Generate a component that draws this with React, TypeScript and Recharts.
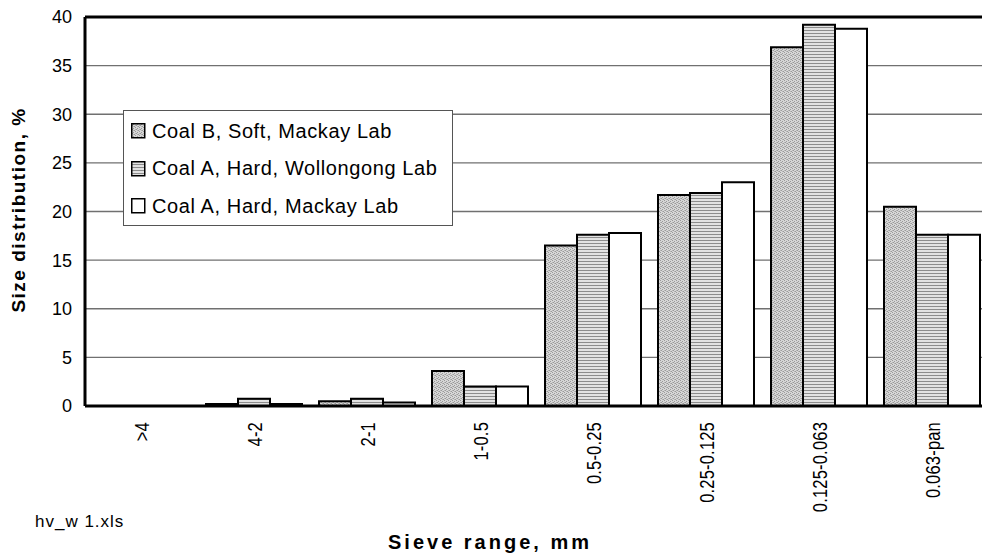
import React from 'react';
import { BarChart, Bar, XAxis, YAxis, CartesianGrid, ReferenceLine, Legend, Label } from 'recharts';

const categories = ['>4', '4-2', '2-1', '1-0.5', '0.5-0.25', '0.25-0.125', '0.125-0.063', '0.063-pan'];
const coalBSoftMackay = [0, 0.2, 0.5, 3.6, 16.5, 21.7, 36.9, 20.5];
const coalAHardWollongong = [0, 0.75, 0.75, 2.0, 17.6, 21.9, 39.2, 17.6];
const coalAHardMackay = [0, 0.2, 0.35, 2.0, 17.8, 23.0, 38.8, 17.6];
const yTicks = [0, 5, 10, 15, 20, 25, 30, 35, 40];
const seriesNames = ['Coal B, Soft, Mackay Lab', 'Coal A, Hard, Wollongong Lab', 'Coal A, Hard, Mackay Lab'];
const seriesKeys = ['b', 'aw', 'am'];
const seriesFills = ['url(#patDot)', 'url(#patStripe)', '#ffffff'];

const data = categories.map((c, i) => ({
  cat: c,
  b: coalBSoftMackay[i],
  aw: coalAHardWollongong[i],
  am: coalAHardMackay[i],
}));

const FONT = "'Liberation Sans', Arial, sans-serif";

const XTick = (props: any) => {
  const { x, y, payload } = props;
  return (
    <g transform={`translate(${x},${y}) scale(1.25,1)`}>
      <text transform="rotate(-90)" x={0} y={0} dy="0.36em" textAnchor="end" fontSize={16.5} letterSpacing={0.2} fontFamily={FONT} fill="#000">
        {payload.value}
      </text>
    </g>
  );
};

const LegendContent = () => (
  <div style={{ width: 330, height: 116, boxSizing: 'border-box', border: '1px solid #555', background: '#fff', fontFamily: FONT, position: 'relative' }}>
    {seriesNames.map((n, i) => (
      <div key={n} style={{ position: 'absolute', left: 7, top: 8 + i * 37.5, height: 24, display: 'flex', alignItems: 'center' }}>
        <svg width={15} height={16} style={{ display: 'block' }}>
          <rect x={0.75} y={0.75} width={13} height={14} fill={seriesFills[i]} stroke="#000" strokeWidth={1.5} />
        </svg>
        <span style={{ marginLeft: 6, fontSize: 20, letterSpacing: 0.6, color: '#000', whiteSpace: 'nowrap' }}>{n}</span>
      </div>
    ))}
  </div>
);

export default function App() {
  return (
    <div style={{ position: 'absolute', left: 0, top: 0, width: 982, height: 559, overflow: 'hidden', background: '#fff' }}>
      <svg width={0} height={0} style={{ position: 'absolute' }}>
        <defs>
          <pattern id="patDot" patternUnits="userSpaceOnUse" width={4} height={4}>
            <rect width={4} height={4} fill="#d6d6d6" />
            <rect x={0} y={0} width={1} height={1} fill="#9a9a9a" />
            <rect x={2} y={1} width={1} height={1} fill="#9a9a9a" />
            <rect x={1} y={2} width={1} height={1} fill="#9a9a9a" />
            <rect x={3} y={3} width={1} height={1} fill="#9a9a9a" />
            <rect x={2} y={3} width={1} height={1} fill="#b4b4b4" />
            <rect x={0} y={2} width={1} height={1} fill="#b4b4b4" />
          </pattern>
          <pattern id="patStripe" patternUnits="userSpaceOnUse" width={3} height={3}>
            <rect width={3} height={3} fill="#e2e2e2" />
            <rect width={3} height={1} fill="#8c8c8c" />
          </pattern>
        </defs>
      </svg>
      <BarChart
        width={990}
        height={559}
        data={data}
        margin={{ top: 17, right: 1, left: 0, bottom: 0 }}
        barCategoryGap={8}
        barGap={0}
      >
        <CartesianGrid vertical={false} stroke="#707070" strokeWidth={1.4} />
        <XAxis
          dataKey="cat"
          height={153}
          tickLine={false}
          axisLine={{ stroke: '#000', strokeWidth: 3 }}
          interval={0}
          tick={<XTick />}
          tickMargin={10}
        >
          <Label
            content={() => (
              <g>
                <text x={490} y={549} textAnchor="middle" fontSize={20} fontWeight="bold" letterSpacing={3} fontFamily={FONT} fill="#000">
                  Sieve range, mm
                </text>
                <text x={35} y={527} fontSize={17} letterSpacing={1} fontFamily={FONT} fill="#000">
                  hv_w 1.xls
                </text>
              </g>
            )}
          />
        </XAxis>
        <YAxis
          width={85}
          domain={[0, 40]}
          ticks={yTicks}
          interval={0}
          tickLine={false}
          axisLine={{ stroke: '#000', strokeWidth: 3 }}
          tick={{ fontSize: 18, fill: '#000', fontFamily: FONT }}
          tickMargin={7}
        >
          <Label
            content={() => (
              <text
                transform="translate(25,210) rotate(-90)"
                textAnchor="middle"
                fontSize={19}
                fontWeight="bold"
                letterSpacing={1.5}
                fontFamily={FONT}
                fill="#000"
              >
                Size distribution, %
              </text>
            )}
          />
        </YAxis>
        <ReferenceLine y={40} stroke="#000" strokeWidth={3} />
        {seriesKeys.map((k, i) => (
          <Bar key={k} dataKey={k} name={seriesNames[i]} fill={seriesFills[i]} stroke="#000" strokeWidth={2} isAnimationActive={false} />
        ))}
        <Legend
          layout="vertical"
          align="center"
          verticalAlign="middle"
          wrapperStyle={{ position: 'absolute', left: 123, top: 110, width: 330, height: 116 }}
          content={<LegendContent />}
        />
      </BarChart>
    </div>
  );
}
